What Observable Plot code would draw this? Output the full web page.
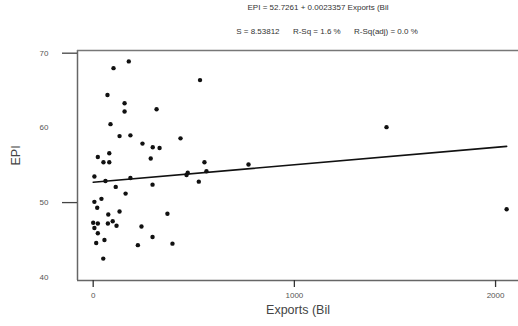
<!DOCTYPE html>
<html>
<head>
<meta charset="utf-8">
<script src="https://cdn.jsdelivr.net/npm/d3@7"></script>
<script src="https://cdn.jsdelivr.net/npm/@observablehq/plot@0.6"></script>
<style>
  html, body { margin: 0; padding: 0; background: #fff; }
  #wrap { width: 518px; height: 326px; overflow: hidden; font-family: "Liberation Sans", Arial, sans-serif; }
  #titles { position: relative; width: 518px; height: 44px; }
  .t { position: absolute; transform: translateX(-50%); white-space: pre; font-size: 8px; line-height: 10px; color: #333; }
  svg { display: block; }
</style>
</head>
<body>
<div id="wrap">
  <div id="titles">
    <div class="t" id="title1" style="left:318px; top:3px;"></div>
    <div class="t" id="title2" style="left:327px; top:27px;"></div>
  </div>
  <div id="chart"></div>
</div>
<script>
const exportsBil = [177, 101, 71, 156, 156, 315, 531, 86, 131, 185, 245, 434, 296, 330,
  23, 80, 51, 80, 286, 553, 772, 6, 61, 185, 112, 295, 161, 470, 464, 563, 525,
  6, 41, 20, 75, 131, 369, 0, 23, 73, 97, 116, 6, 23, 240, 15, 56, 222, 295, 394, 50, 2055, 1458];
const epi = [68.9, 68.0, 64.4, 63.3, 62.2, 62.5, 66.4, 60.5, 58.9, 59.0, 57.9, 58.6, 57.4, 57.3,
  56.1, 56.6, 55.4, 55.4, 55.9, 55.4, 55.1, 53.5, 52.9, 53.3, 52.1, 52.4, 51.2, 54.0, 53.7, 54.2, 52.8,
  50.1, 50.5, 49.3, 48.4, 48.8, 48.5, 47.3, 47.2, 47.2, 47.5, 46.9, 46.6, 45.9, 46.8, 44.6, 45.0, 44.3, 45.4, 44.5, 42.5, 49.1, 60.1];

// Fitted equation from the chart title
const intercept = 52.7261;
const slope = 0.0023357;

const xTicks = [0, 1000, 2000];
const yTickLabels = [40, 50, 60, 70];
const yTickMarks = [50, 70];

const titleText = "EPI = 52.7261 + 0.0023357 Exports (Bil";
const subtitleText = "S = 8.53812      R-Sq = 1.6 %      R-Sq(adj) = 0.0 %";
const xLabel = "Exports (Bil";
const yLabel = "EPI";

document.getElementById("title1").textContent = titleText;
document.getElementById("title2").textContent = subtitleText;

const points = exportsBil.map((x, i) => ({x, y: epi[i]}));
const xExtent = d3.extent(exportsBil);
const fit = xExtent.map(x => ({x, y: intercept + slope * x}));

const xDomain = [-78, 2114];
const yDomain = [39.57, 70.36];

const chart = Plot.plot({
  width: 518,
  height: 282,
  marginTop: 6,
  marginBottom: 46,
  marginLeft: 77,
  marginRight: 0,
  style: {fontFamily: "Liberation Sans, Arial, sans-serif", background: "#fff"},
  x: {domain: xDomain, axis: null},
  y: {domain: yDomain, axis: null},
  marks: [
    // frame: left, top, bottom (right edge is cropped)
    Plot.ruleX([xDomain[0]], {stroke: "#666", strokeWidth: 1.5}),
    Plot.ruleY([yDomain[1]], {stroke: "#777", strokeWidth: 1.5}),
    Plot.ruleY([yDomain[0]], {stroke: "#666", strokeWidth: 1.5}),
    Plot.axisY({ticks: yTickMarks, tickSize: 15, tickFormat: () => "", stroke: "#444", strokeWidth: 1.3, label: null}),
    Plot.axisY({ticks: yTickLabels, tickSize: 0, tickPadding: 29, fontSize: 8, fill: "#555", tickFormat: d => String(d), label: null}),
    Plot.axisX({ticks: xTicks, tickSize: 7, tickPadding: 5, fontSize: 8, fill: "#555", stroke: "#333", strokeWidth: 1.3, tickFormat: d => String(d), label: null}),
    Plot.text([xLabel], {frameAnchor: "bottom", dy: 33, fontSize: 12.5, fill: "#444", text: d => d}),
    Plot.text([yLabel], {frameAnchor: "left", dx: -62, rotate: -90, fontSize: 12.5, fill: "#444", text: d => d}),
    Plot.line(fit, {x: "x", y: "y", stroke: "#111", strokeWidth: 1.6}),
    Plot.dot(points, {x: "x", y: "y", r: 2.2, fill: "#111", stroke: "none"})
  ]
});
document.getElementById("chart").appendChild(chart);
</script>
</body>
</html>
